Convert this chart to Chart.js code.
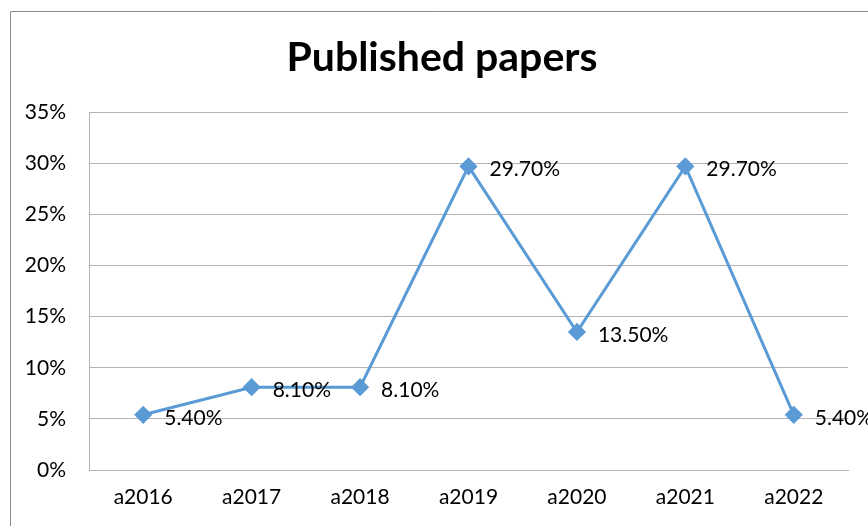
<!DOCTYPE html>
<html>
<head>
<meta charset="utf-8">
<script src="https://cdn.jsdelivr.net/npm/chart.js@4/dist/chart.umd.min.js"></script>
<style>
  html, body { margin: 0; padding: 0; background: #ffffff; }
  #wrap { width: 868px; height: 526px; position: relative; }
</style>
</head>
<body>
<div id="wrap"><canvas id="c" width="868" height="526"></canvas></div>
<script>
// Share of published papers per year (percent)
const years = ['a2016', 'a2017', 'a2018', 'a2019', 'a2020', 'a2021', 'a2022'];
const shares = [5.4, 8.1, 8.1, 29.7, 13.5, 29.7, 5.4];
const titleText = 'Published papers';

const FONT = 'Lato, "Open Sans", sans-serif';
const LINE = '#5B9BD5';
const GRID = '#B3B3B3';

// Outer frame of the chart object
const framePlugin = {
  id: 'frame',
  beforeDraw(chart) {
    const ctx = chart.ctx;
    ctx.save();
    ctx.fillStyle = '#ffffff';
    ctx.fillRect(0, 0, chart.width, chart.height);
    ctx.strokeStyle = '#8C8C8C';
    ctx.lineWidth = 1;
    ctx.beginPath();
    ctx.moveTo(10.5, chart.height + 2);
    ctx.lineTo(10.5, 11.5);
    ctx.lineTo(chart.width + 2, 11.5);
    ctx.stroke();
    ctx.restore();
  }
};

// Value labels placed to the right of each marker
const valueLabels = {
  id: 'valueLabels',
  afterDatasetsDraw(chart) {
    const ctx = chart.ctx;
    const meta = chart.getDatasetMeta(0);
    ctx.save();
    ctx.font = '21px ' + FONT;
    ctx.fillStyle = '#000000';
    ctx.textAlign = 'left';
    ctx.textBaseline = 'middle';
    meta.data.forEach((pt, i) => {
      const v = chart.data.datasets[0].data[i];
      ctx.fillText(v.toFixed(2) + '%', pt.x + 21, pt.y + 3);
    });
    ctx.restore();
  }
};

new Chart(document.getElementById('c'), {
  type: 'line',
  data: {
    labels: years,
    datasets: [{
      data: shares,
      yAxisID: 'y',
      borderColor: LINE,
      backgroundColor: LINE,
      borderWidth: 3,
      pointStyle: 'rectRot',
      pointRadius: 7,
      pointHoverRadius: 7,
      pointBackgroundColor: LINE,
      pointBorderColor: LINE,
      tension: 0,
      clip: false
    }]
  },
  options: {
    responsive: false,
    animation: false,
    devicePixelRatio: 1,
    layout: { padding: { left: 16, right: 0, top: 0, bottom: 0 } },
    plugins: {
      legend: { display: false },
      tooltip: { enabled: false },
      title: {
        display: true,
        text: titleText,
        color: '#000000',
        font: { family: FONT, size: 41, weight: 'bold', lineHeight: 1.2 },
        padding: { top: 33, bottom: 30 }
      }
    },
    scales: {
      x: {
        offset: true,
        grid: { display: false, drawTicks: false },
        border: { display: true, color: GRID, width: 1 },
        ticks: {
          color: '#000000',
          font: { family: FONT, size: 21 },
          padding: 15
        },
        afterFit(scale) { scale.height = 56; }
      },
      y: {
        min: 0,
        max: 35,
        grid: { color: GRID, lineWidth: 1, drawTicks: false },
        border: { display: true, color: GRID, width: 1 },
        ticks: {
          stepSize: 5,
          color: '#000000',
          font: { family: FONT, size: 21 },
          padding: 23,
          callback: (v) => v + '%'
        },
        afterFit(scale) { scale.width = 73; }
      },
      // empty right-hand margin keeping the plot off the right edge
      yRight: {
        position: 'right',
        min: 0,
        max: 35,
        grid: { display: false, drawTicks: false },
        border: { display: false },
        ticks: { display: false },
        afterFit(scale) { scale.width = 20; }
      }
    }
  },
  plugins: [framePlugin, valueLabels]
});
</script>
</body>
</html>
